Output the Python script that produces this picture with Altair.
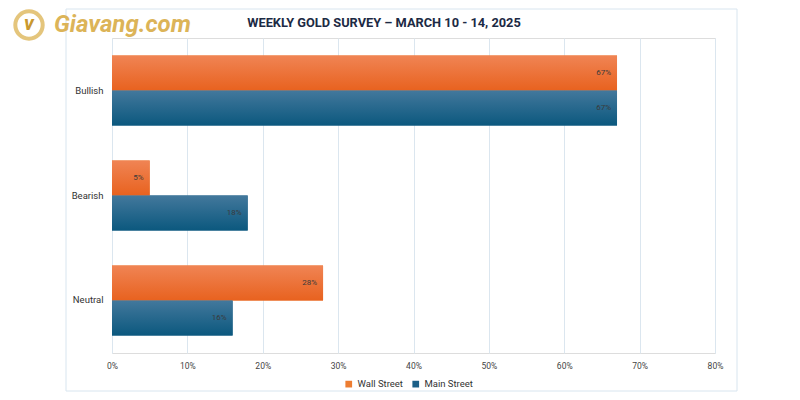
import altair as alt
import pandas as pd

categories = ["Bullish", "Bearish", "Neutral"]
series_names = ["Wall Street", "Main Street"]
wall_street = [67, 5, 28]
main_street = [67, 18, 16]
x_ticks = [0, 10, 20, 30, 40, 50, 60, 70, 80]
title_text = "WEEKLY GOLD SURVEY – MARCH 10 - 14, 2025"
logo_text = "Giavang.com"

rows = []
for c, w, m in zip(categories, wall_street, main_street):
    rows.append({"category": c, "series": "Wall Street", "value": w, "label": f"{w}%"})
    rows.append({"category": c, "series": "Main Street", "value": m, "label": f"{m}%"})
df = pd.DataFrame(rows)

ORANGE = "#ed7d31"
BLUE = "#1b5f87"

xscale = alt.Scale(domain=[0, 80], nice=False)
yscale = alt.Scale(domain=categories, paddingInner=0.333, paddingOuter=0.1667)

x_enc = alt.X("value:Q", scale=xscale,
              axis=alt.Axis(values=x_ticks, labelExpr="datum.value + '%'", title=None,
                            domain=False, ticks=False, grid=True, gridColor="#dbe6ef",
                            labelFontSize=8.5, labelColor="#444444", labelPadding=8,
                            labelFont="Roboto", labelFlush=False))
y_enc = alt.Y("category:N", scale=yscale, sort=categories,
              axis=alt.Axis(title=None, domain=False, ticks=False, labelFontSize=9.5,
                            labelColor="#333333", labelPadding=9, labelFont="Roboto"))
yoff = alt.YOffset("series:N", sort=series_names)

base = alt.Chart(df)

legend_bars = base.mark_bar().encode(
    x=x_enc, y=y_enc, yOffset=yoff,
    color=alt.Color("series:N", sort=series_names,
                    scale=alt.Scale(domain=series_names, range=[ORANGE, BLUE]),
                    legend=alt.Legend(title=None, orient="none", direction="horizontal",
                                      legendX=232, legendY=341, symbolType="square",
                                      symbolSize=45, labelFontSize=9.5, labelColor="#333333",
                                      labelFont="Roboto", columnPadding=8, symbolStrokeWidth=0)),
)

orange_grad = alt.Gradient(gradient="linear", x1=0, y1=0, x2=0, y2=1,
                           stops=[alt.GradientStop(color="#f08454", offset=0),
                                  alt.GradientStop(color="#e8621f", offset=1)])
blue_grad = alt.Gradient(gradient="linear", x1=0, y1=0, x2=0, y2=1,
                         stops=[alt.GradientStop(color="#43789c", offset=0),
                                alt.GradientStop(color="#0b587e", offset=1)])

ws_bars = base.transform_filter(alt.datum.series == "Wall Street").mark_bar(
    color=orange_grad).encode(x=x_enc, y=y_enc, yOffset=yoff)
ms_bars = base.transform_filter(alt.datum.series == "Main Street").mark_bar(
    color=blue_grad).encode(x=x_enc, y=y_enc, yOffset=yoff)

labels = base.mark_text(align="right", baseline="middle", dx=-6, fontSize=8,
                        color="#3a3a3a", font="Roboto").encode(
    x=x_enc, y=y_enc, yOffset=yoff, text="label:N")

title = alt.Chart(pd.DataFrame({"t": [title_text]})).mark_text(
    align="center", baseline="middle", fontSize=12.8, fontWeight="bold",
    color="#1c2a44", font="Roboto").encode(
    x=alt.value(272), y=alt.value(-15.5), text="t:N")

frame = alt.Chart(pd.DataFrame({"a": [0]})).mark_rect(
    fill="transparent", stroke="#d8e5ef", strokeWidth=1).encode(
    x=alt.value(-46), x2=alt.value(625), y=alt.value(-29), y2=alt.value(353))

logo_ring = alt.Chart(pd.DataFrame({"a": [0]})).mark_point(
    shape="circle", filled=False, stroke="#d9ad45", strokeWidth=4, size=750).encode(
    x=alt.value(-83), y=alt.value(-13))
logo_v = alt.Chart(pd.DataFrame({"t": ["v"]})).mark_text(
    fontSize=20, fontWeight="bold", fontStyle="italic", color="#c9982e", font="Roboto",
    baseline="middle", align="center").encode(x=alt.value(-83), y=alt.value(-14), text="t:N")
logo = alt.Chart(pd.DataFrame({"t": [logo_text]})).mark_text(
    fontSize=24, fontWeight="bold", fontStyle="italic", color="#dcb458", font="Roboto",
    baseline="middle", align="left").encode(x=alt.value(-58), y=alt.value(-13), text="t:N")

chart = alt.layer(frame, legend_bars, ws_bars, ms_bars, labels, title,
                  logo_ring, logo_v, logo).properties(
    width=603, height=315,
    autosize=alt.AutoSizeParams(type="none"),
    padding={"left": 104, "top": 30, "right": 77, "bottom": 39},
).configure_view(stroke=None).configure(background="white")

chart.save("out.html", embed_options={"renderer": "svg", "actions": False})
